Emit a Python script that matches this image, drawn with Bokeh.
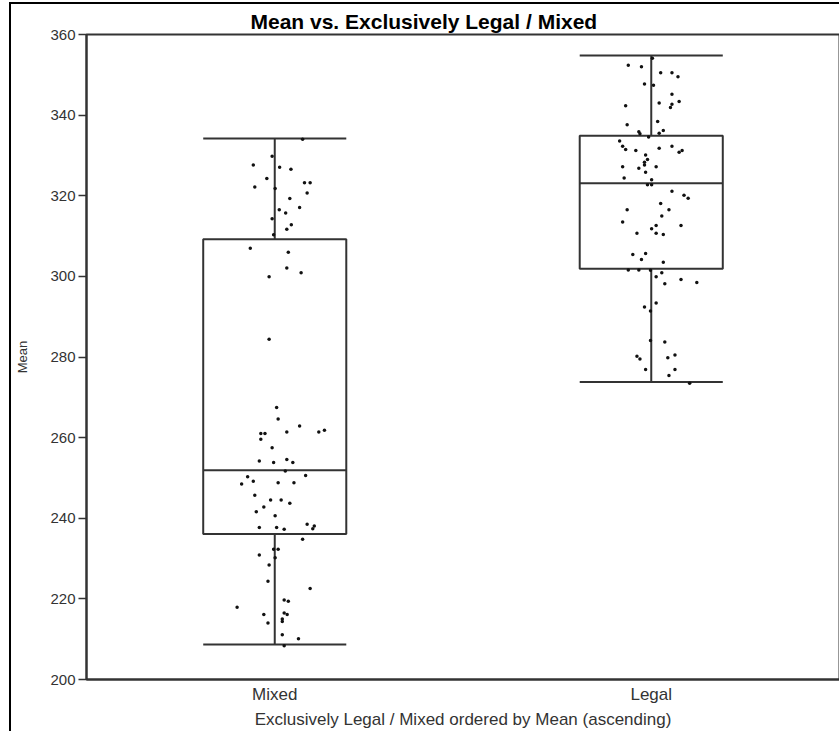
from bokeh.plotting import figure
from bokeh.models import Range1d, FixedTicker, ColumnDataSource
from bokeh.embed import file_html
from bokeh.resources import INLINE

# Groups, ordered by mean (ascending)
categories = ["Mixed", "Legal"]

# Box statistics per group
whisker_low = [208.7, 273.8]
q1 = [236.1, 301.9]
median = [251.9, 323.1]
q3 = [309.2, 334.9]
whisker_high = [334.2, 354.8]

# Individual observations (value, horizontal jitter) for the Mixed group
mixed_values = [
    334.0, 329.8, 327.6, 327.1, 326.6, 324.3, 323.2, 323.2, 322.2, 321.8,
    320.7, 319.3, 317.1, 316.5, 315.7, 314.3, 312.8, 311.7, 310.3, 307.0,
    306.0, 302.1, 300.9, 299.9, 284.4, 267.5, 264.6, 262.9, 261.0, 261.0,
    261.4, 261.4, 261.8, 259.6, 257.5, 254.2, 253.8, 254.6, 253.8, 251.7,
    250.3, 250.6, 248.5, 249.2, 248.8, 248.8, 245.7, 244.5, 244.5, 243.7,
    242.8, 241.6, 240.6, 237.7, 237.7, 237.3, 238.5, 238.1, 237.4, 234.8,
    232.3, 232.3, 230.9, 230.2, 228.4, 224.4, 222.6, 219.7, 219.4, 217.9,
    216.1, 216.5, 216.1, 215.0, 214.4, 214.0, 211.1, 210.1, 208.4,
]
mixed_jitter = [
    0.074, -0.007, -0.057, 0.013, 0.043, -0.021, 0.079, 0.094, -0.053, 0.001,
    0.086, 0.040, 0.066, 0.012, 0.029, -0.007, 0.044, 0.032, -0.003, -0.065,
    0.036, 0.032, 0.070, -0.015, -0.015, 0.005, 0.009, 0.066, -0.037, -0.026,
    0.032, 0.117, 0.132, -0.037, -0.007, -0.041, -0.003, 0.032, 0.048, 0.028,
    -0.072, 0.082, -0.088, -0.057, 0.009, 0.051, -0.053, -0.011, 0.017, 0.040,
    -0.029, -0.049, 0.001, -0.041, 0.005, 0.025, 0.086, 0.105, 0.101, 0.074,
    -0.003, 0.009, -0.041, 0.001, -0.015, -0.018, 0.094, 0.025, 0.036, -0.100,
    -0.029, 0.025, 0.033, 0.020, 0.020, -0.018, 0.020, 0.063, 0.025,
]

# Individual observations (value, horizontal jitter) for the Legal group
legal_values = [
    354.1, 352.4, 352.0, 350.5, 350.5, 349.5, 347.7, 347.4, 345.2, 343.0,
    343.4, 342.7, 341.9, 342.3, 337.6, 338.4, 335.9, 335.4, 336.2, 335.5,
    334.6, 333.6, 332.3, 331.5, 331.2, 331.8, 332.3, 330.8, 331.2, 330.1,
    329.0, 328.3, 327.6, 327.2, 326.8, 327.2, 325.8, 324.4, 324.0, 322.7,
    322.7, 321.1, 320.1, 319.4, 318.1, 316.5, 316.5, 315.0, 313.5, 312.6,
    312.6, 311.8, 310.7, 310.7, 310.4, 305.4, 305.7, 304.2, 303.5, 301.6,
    301.6, 301.5, 300.9, 299.9, 298.2, 299.2, 298.5, 293.4, 292.4, 291.4,
    284.1, 283.7, 280.2, 279.5, 279.8, 280.5, 276.9, 276.9, 275.4, 273.5,
]
legal_jitter = [
    0.003, -0.061, -0.026, 0.025, 0.055, 0.071, -0.018, 0.006, 0.055, 0.021,
    0.074, 0.055, 0.051, -0.068, -0.064, 0.017, -0.033, -0.030, 0.032, 0.021,
    -0.007, -0.084, -0.076, -0.068, -0.041, 0.021, 0.055, 0.074, 0.082, -0.015,
    -0.010, -0.018, -0.018, -0.076, -0.033, 0.013, -0.015, -0.072, 0.001, -0.010,
    0.001, 0.055, 0.087, 0.098, 0.025, -0.064, 0.047, 0.028, -0.076, 0.079,
    0.013, 0.001, -0.038, 0.013, 0.032, -0.049, -0.015, -0.026, 0.032, -0.061,
    -0.033, -0.002, 0.028, 0.013, 0.036, 0.079, 0.121, 0.013, -0.018, -0.002,
    -0.002, 0.036, -0.038, -0.030, 0.044, 0.063, -0.015, 0.063, 0.047, 0.102,
]

y_ticks = [200, 220, 240, 260, 280, 300, 320, 340, 360]

FONT = "Liberation Sans"
LINE = "#333333"
BOX_HALF = 0.19

positions = [i + 1 for i in range(len(categories))]

p = figure(
    width=830, height=729,
    x_range=Range1d(0.5, 2.5), y_range=Range1d(200, 360),
    output_backend="svg", toolbar_location=None,
    min_border_left=75, min_border_right=2, min_border_top=30, min_border_bottom=54,
    title="Mean vs. Exclusively Legal / Mixed",
)
p.styles = {
    "margin-left": "9px", "margin-top": "2px",
    "border-left": "2px solid black", "border-top": "2px solid black",
}

# title
p.title.align = "left"
p.title.vertical_align = "top"
p.title.offset = 164
p.title.standoff = 0
p.title.text_font = FONT
p.title.text_font_size = "21px"
p.title.text_font_style = "bold"
p.title.text_color = "black"

# frame and grid
p.xgrid.visible = False
p.ygrid.visible = False
p.outline_line_color = LINE
p.outline_line_width = 2
p.background_fill_color = "white"
p.border_fill_color = "white"

# y axis
ya = p.yaxis[0]
ya.ticker = FixedTicker(ticks=y_ticks)
ya.minor_tick_line_color = None
ya.major_tick_out = 8
ya.major_tick_in = 0
ya.major_tick_line_color = LINE
ya.major_tick_line_width = 1.5
ya.axis_line_color = LINE
ya.axis_line_width = 2
ya.major_label_standoff = 3
ya.major_label_text_font = FONT
ya.major_label_text_font_size = "15px"
ya.major_label_text_color = "#333333"
ya.axis_label = "Mean"
ya.axis_label_text_font = FONT
ya.axis_label_text_font_size = "13px"
ya.axis_label_text_font_style = "normal"
ya.axis_label_text_color = "#333333"
ya.axis_label_standoff = 17

# x axis
xa = p.xaxis[0]
xa.ticker = FixedTicker(ticks=positions)
xa.major_label_overrides = {pos: name for pos, name in zip(positions, categories)}
xa.minor_tick_line_color = None
xa.major_tick_out = 0
xa.major_tick_in = 0
xa.axis_line_color = LINE
xa.axis_line_width = 2
xa.major_label_standoff = 5
xa.major_label_text_font = FONT
xa.major_label_text_font_size = "17px"
xa.major_label_text_color = "#333333"
xa.axis_label = "Exclusively Legal / Mixed ordered by Mean (ascending)"
xa.axis_label_text_font = FONT
xa.axis_label_text_font_size = "17px"
xa.axis_label_text_font_style = "normal"
xa.axis_label_text_color = "#333333"
xa.axis_label_standoff = 3

# boxes, medians, whiskers and caps
stats = ColumnDataSource(dict(
    pos=positions,
    left=[x - BOX_HALF for x in positions],
    right=[x + BOX_HALF for x in positions],
    low=whisker_low, q1=q1, med=median, q3=q3, high=whisker_high,
))
p.segment(x0="pos", y0="q3", x1="pos", y1="high", source=stats, line_color=LINE, line_width=2)
p.segment(x0="pos", y0="low", x1="pos", y1="q1", source=stats, line_color=LINE, line_width=2)
p.quad(left="left", right="right", bottom="q1", top="q3", source=stats,
       fill_color=None, line_color=LINE, line_width=2)
p.segment(x0="left", y0="med", x1="right", y1="med", source=stats, line_color=LINE, line_width=2)
p.segment(x0="left", y0="high", x1="right", y1="high", source=stats, line_color=LINE, line_width=2)
p.segment(x0="left", y0="low", x1="right", y1="low", source=stats, line_color=LINE, line_width=2)

# jittered observations
pts = ColumnDataSource(dict(
    x=[positions[0] + j for j in mixed_jitter] + [positions[1] + j for j in legal_jitter],
    y=mixed_values + legal_values,
))
p.scatter(x="x", y="y", source=pts, size=3.5, marker="circle",
          fill_color="#111111", line_color=None)

open("out.html", "w").write(file_html(p, INLINE))
